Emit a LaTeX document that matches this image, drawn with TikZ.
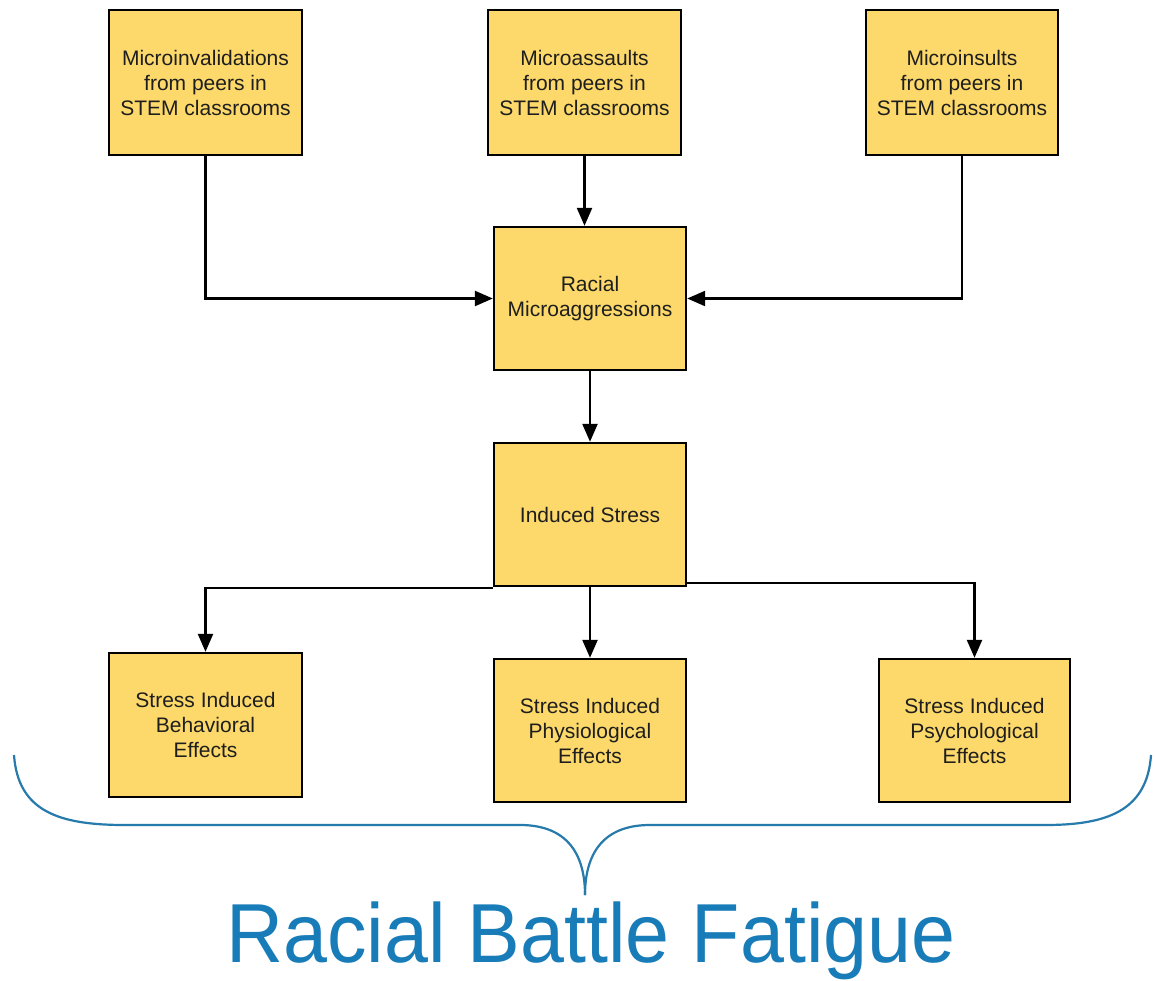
\documentclass[tikz,border=0pt]{standalone}
\usepackage{fontspec}
\setmainfont{Liberation Sans}
\usetikzlibrary{arrows.meta}
\definecolor{boxfill}{RGB}{252,217,106}
\definecolor{bracecol}{RGB}{38,122,172}
\definecolor{titlecol}{RGB}{24,124,184}
\definecolor{txt}{RGB}{30,30,30}
\tikzset{
  flowbox/.style={draw=black, line width=2.4pt, fill=boxfill, inner sep=2pt,
    align=center, text=txt, font=\fontsize{21}{25}\selectfont},
  arr/.style={draw=black, line width=2.4pt, -{Triangle[length=18pt,width=15pt]}},
  bracestyle/.style={draw=bracecol, line width=2.2pt}
}
\begin{document}
\begin{tikzpicture}[x=1pt,y=-1pt]
\useasboundingbox[fill=white] (0,0) rectangle (1155,981);
\node[flowbox, minimum width=193pt, minimum height=145pt] (b1) at (205.5,82.5) {Microinvalidations\\from peers in\\STEM classrooms};
\node[flowbox, minimum width=193pt, minimum height=145pt] (b2) at (584.5,82.5) {Microassaults\\from peers in\\STEM classrooms};
\node[flowbox, minimum width=192pt, minimum height=145pt] (b3) at (962,82.5) {Microinsults\\from peers in\\STEM classrooms};
\node[flowbox, minimum width=192pt, minimum height=143pt] (rm) at (590,298.5) {Racial\\Microaggressions};
\node[flowbox, minimum width=192pt, minimum height=143pt] (is) at (590,514.5) {Induced Stress};
\node[flowbox, minimum width=193pt, minimum height=144pt] (beh) at (205.5,725) {Stress Induced\\Behavioral\\Effects};
\node[flowbox, minimum width=192pt, minimum height=143pt] (phys) at (590,730.5) {Stress Induced\\Physiological\\Effects};
\node[flowbox, minimum width=191pt, minimum height=143pt] (psy) at (974.5,730.5) {Stress Induced\\Psychological\\Effects};

\draw[arr] (b1.south) |- (rm.west);
\draw[arr] (b2.south) -- (b2.south |- rm.north);
\draw[arr] (b3.south) |- (rm.east);
\draw[arr] (rm.south) -- (is.north);
\draw[arr] ([yshift=-1pt]is.south west) -| (beh.north);
\draw[arr] (is.south) -- (phys.north);
\draw[arr] ([yshift=4pt]is.south east) -| (psy.north);

\coordinate (bl) at (14,755);
\coordinate (br) at (1151,755);
\coordinate (tip) at (585,895);
\draw[bracestyle] (bl) .. controls (18,812) and (60,825) .. (125,825)
  -- (520,825) .. controls (568,825) and (585,855) .. (tip);
\draw[bracestyle] (br) .. controls (1147,812) and (1105,825) .. (1045,825)
  -- (650,825) .. controls (602,825) and (585,855) .. (tip);

\node[anchor=base, text=titlecol, font=\fontsize{79}{90}\selectfont, inner sep=0pt, yscale=1.06] (rbf) at (591,962) {Racial Battle Fatigue};
\end{tikzpicture}
\end{document}
